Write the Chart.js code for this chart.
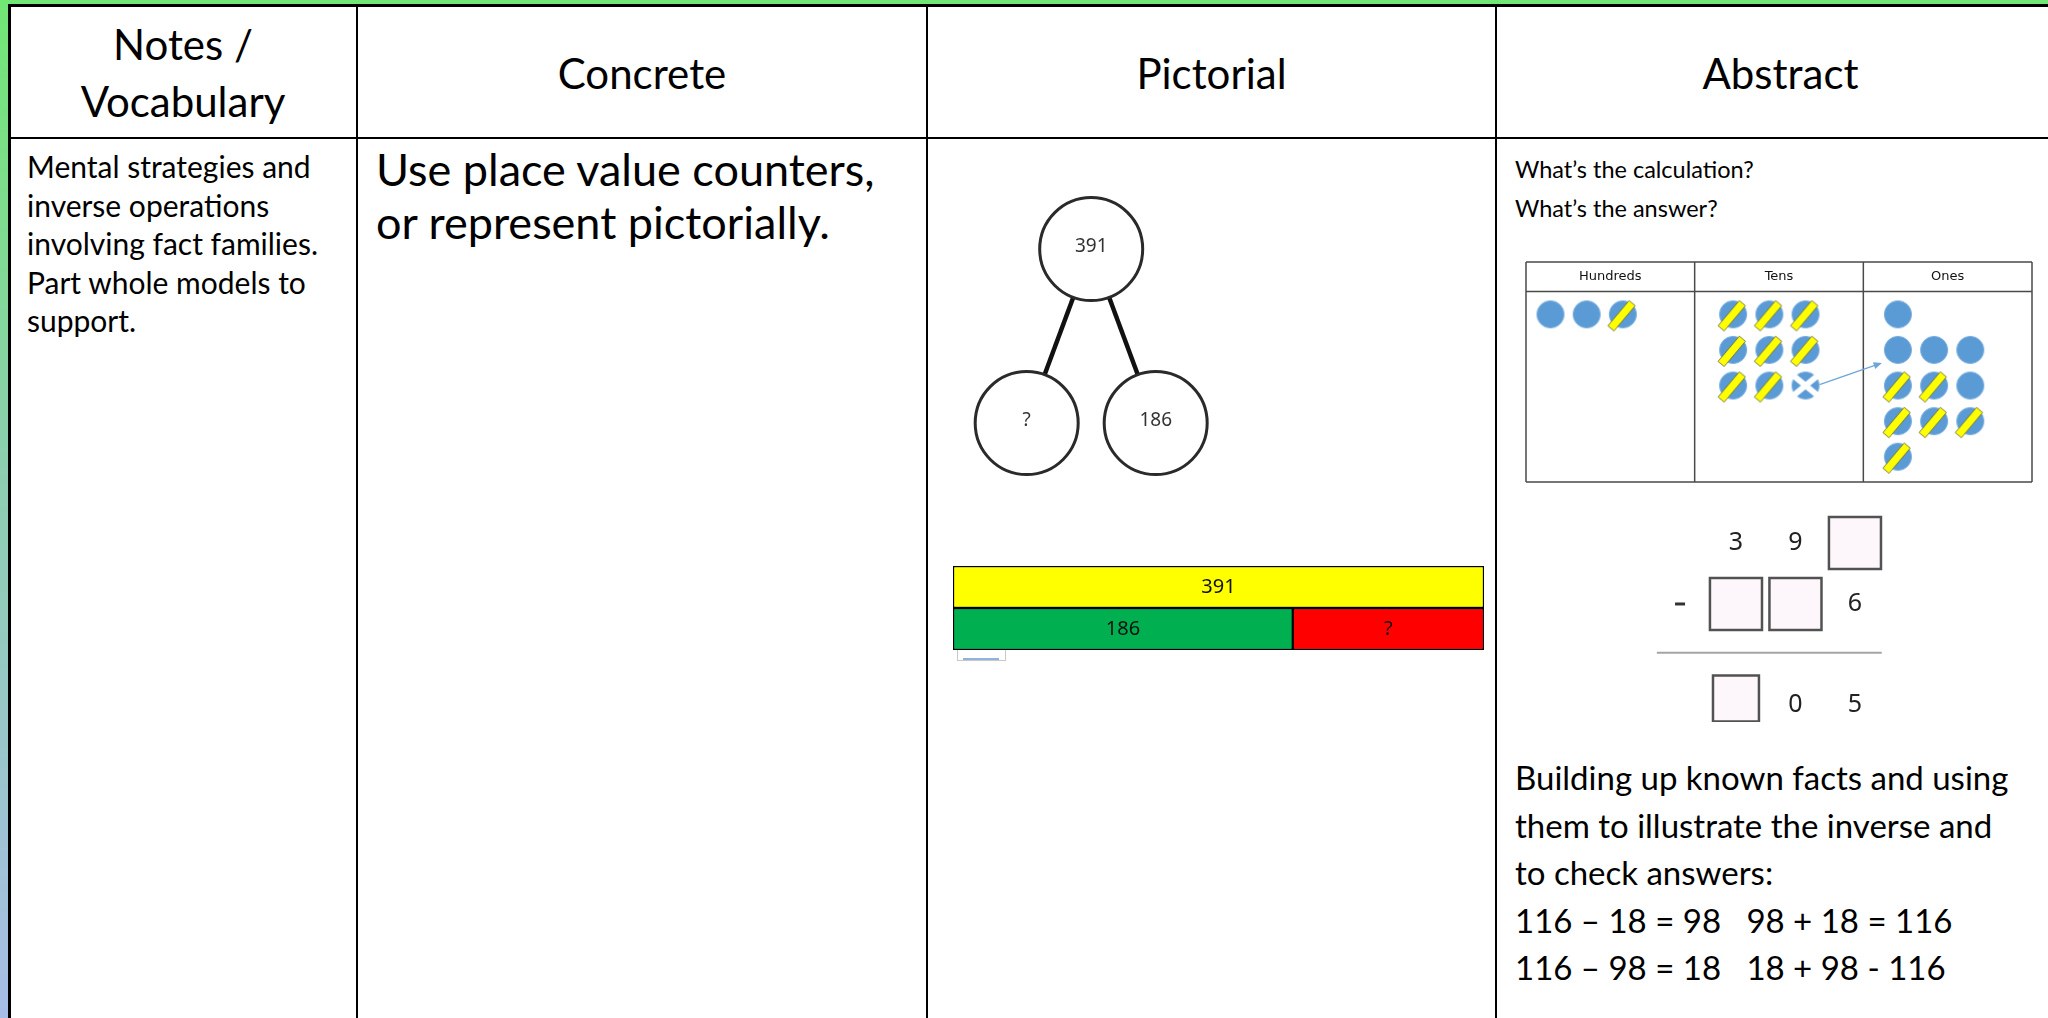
<!DOCTYPE html>
<html>
<head>
<meta charset="utf-8">
<title>Subtraction - CPA</title>
<script src="https://cdn.jsdelivr.net/npm/chart.js@4.4.1/dist/chart.umd.min.js"></script>
<style>
html, body { margin: 0; padding: 0; }
body {
    width: 2048px; height: 1018px; overflow: hidden; position: relative;
    background: linear-gradient(to bottom, #72e674 0%, #8ccfae 45%, #a8bde6 100%);
    font-family: Lato, "Open Sans", sans-serif; color: #000;
}
#sheet { position: absolute; left: 8px; top: 4px; width: 2100px; height: 1100px; background: #fff; }
.rule { position: absolute; background: #000; }
.txt { position: absolute; white-space: pre; }
.head { font-size: 42px; line-height: 57px; text-align: center; }
canvas { position: absolute; }
</style>
</head>
<body>
<div id="sheet"></div>

<div class="rule" style="left:8px; top:4px; width:2100px; height:3px;"></div>
<div class="rule" style="left:8px; top:4px; width:3px; height:1100px;"></div>
<div class="rule" style="left:8px; top:137px; width:2100px; height:2px;"></div>
<div class="rule" style="left:356px; top:4px; width:2px; height:1100px;"></div>
<div class="rule" style="left:926px; top:4px; width:2px; height:1100px;"></div>
<div class="rule" style="left:1495px; top:4px; width:2px; height:1100px;"></div>

<div class="txt head" style="left:9px; width:348px; top:16px;">Notes /
Vocabulary</div>
<div class="txt head" style="left:358px; width:568px; top:45px;">Concrete</div>
<div class="txt head" style="left:928px; width:567px; top:45px;">Pictorial</div>
<div class="txt head" style="left:1497px; width:567px; top:45px;">Abstract</div>

<div class="txt" style="left:27px; top:147px; font-size:30px; line-height:38.5px;">Mental strategies and
inverse operations
involving fact families.
Part whole models to
support.</div>

<div class="txt" style="left:376px; top:143px; font-size:45px; line-height:53px;">Use place value counters,
or represent pictorially.</div>

<div class="txt" style="left:1515px; top:150px; font-size:23.5px; line-height:39px;">What’s the calculation?
What’s the answer?</div>

<div class="txt" style="left:1515px; top:754px; font-size:33px; line-height:47.5px;">Building up known facts and using
them to illustrate the inverse and
to check answers:
116 – 18 = 98   98 + 18 = 116
116 – 98 = 18   18 + 98 - 116</div>

<canvas id="partWhole" width="260" height="310" style="left:960px; top:180px;"></canvas>
<canvas id="barModel" width="537" height="90" style="left:950px; top:563px;"></canvas>
<div style="position:absolute; left:957px; top:650px; width:47px; height:10px; border:1px solid #c8c8c8; border-top:none;"></div>
<div style="position:absolute; left:963px; top:658px; width:36px; height:2px; background:#8fb3dc;"></div>
<canvas id="placeValue" width="512" height="226" style="left:1523px; top:259px;"></canvas>
<canvas id="columnSub" width="240" height="210" style="left:1650px; top:512px;"></canvas>

<script>
// part whole model
const wholeValue = "391";
const partValues = ["?", "186"];

// bar model: lengths as drawn (whole bar = 100), labels shown on the bars
const barRows = ["whole", "parts"];
const wholeBarLength = [100];
const partBarLengths = [64, 36];
const wholeBarLabel = ["391"];
const partBarLabels = ["186", "?"];

// place value counters, one array per row
const placeNames = ["Hundreds", "Tens", "Ones"];
const hundredsCounters = [["plain", "plain", "crossed"]];
const tensCounters = [
    ["crossed", "crossed", "crossed"],
    ["crossed", "crossed", "crossed"],
    ["crossed", "crossed", "exchanged"]
];
const onesCounters = [
    ["plain"],
    ["plain", "plain", "plain"],
    ["crossed", "crossed", "plain"],
    ["crossed", "crossed", "crossed"],
    ["crossed"]
];

// column subtraction (null = empty box)
const minuendDigits = ["3", "9", null];
const subtrahendDigits = [null, null, "6"];
const differenceDigits = [null, "0", "5"];

const baseOptions = {
    responsive: false,
    animation: false,
    events: [],
    devicePixelRatio: 1,
    plugins: { legend: { display: false }, tooltip: { enabled: false } }
};

function makePartWhole() {
    const nodes = [{ x: 0, y: 0 }, { x: -1, y: 1 }, { x: 1, y: 1 }];
    const texts = [wholeValue, partValues[0], partValues[1]];

    new Chart(document.getElementById("partWhole"), {
        type: "scatter",
        data: {
            datasets: [
                {
                    data: nodes,
                    pointRadius: 51.5,
                    pointBackgroundColor: "#fff",
                    pointBorderColor: "#2a2a2a",
                    pointBorderWidth: 3,
                    clip: false
                },
                { type: "line", data: [nodes[0], nodes[1]], borderColor: "#111", borderWidth: 4.5, pointRadius: 0, clip: false },
                { type: "line", data: [nodes[0], nodes[2]], borderColor: "#111", borderWidth: 4.5, pointRadius: 0, clip: false }
            ]
        },
        options: {
            ...baseOptions,
            layout: { autoPadding: false, padding: 0 },
            scales: {
                x: { type: "linear", display: false, min: -2.034, max: 1.997 },
                y: { type: "linear", display: false, reverse: true, min: -0.397, max: 1.385 }
            }
        },
        plugins: [{
            id: "nodeText",
            afterDatasetsDraw(chart) {
                const ctx = chart.ctx;
                ctx.save();
                ctx.font = '19px "Noto Sans"';
                ctx.fillStyle = "#333";
                ctx.textAlign = "center";
                ctx.textBaseline = "middle";
                chart.getDatasetMeta(0).data.forEach((pt, i) => {
                    ctx.fillText(texts[i], pt.x, pt.y - 2);
                });
                ctx.restore();
            }
        }]
    });
}

function makeBarModel() {
    const labels = [[wholeBarLabel[0], null], [null, partBarLabels[0]], [null, partBarLabels[1]]];

    new Chart(document.getElementById("barModel"), {
        type: "bar",
        data: {
            labels: barRows,
            datasets: [
                { data: [wholeBarLength[0], null], backgroundColor: "#ffff00" },
                { data: [null, partBarLengths[0]], backgroundColor: "#00b050" },
                { data: [null, partBarLengths[1]], backgroundColor: "#ff0000" }
            ]
        },
        options: {
            ...baseOptions,
            indexAxis: "y",
            layout: { autoPadding: false, padding: 3 },
            datasets: {
                bar: { barPercentage: 1, categoryPercentage: 1, borderColor: "#000", borderWidth: 1.5, borderSkipped: false }
            },
            scales: {
                x: { stacked: true, display: false, min: 0, max: 100 },
                y: { stacked: true, display: false }
            }
        },
        plugins: [{
            id: "barText",
            afterDatasetsDraw(chart) {
                const ctx = chart.ctx;
                ctx.save();
                ctx.font = '20px "Noto Sans"';
                ctx.fillStyle = "#111";
                ctx.textAlign = "center";
                ctx.textBaseline = "middle";
                chart.data.datasets.forEach((ds, i) => {
                    chart.getDatasetMeta(i).data.forEach((bar, j) => {
                        if (labels[i][j] == null) return;
                        ctx.fillText(labels[i][j], (bar.x + bar.base) / 2, bar.y);
                    });
                });
                ctx.restore();
            }
        }]
    });
}

function counterImage(state) {
    const c = document.createElement("canvas");
    c.width = 38;
    c.height = 38;
    const g = c.getContext("2d");
    g.translate(19, 19);
    g.beginPath();
    g.arc(0, 0, 13.6, 0, Math.PI * 2);
    g.fillStyle = "#5b9bd5";
    g.fill();
    g.strokeStyle = "#7aaede";
    g.lineWidth = 1;
    g.stroke();
    if (state === "crossed") {
        g.save();
        g.translate(-1, 1);
        g.rotate(-0.87);
        g.fillStyle = "#ffff00";
        g.fillRect(-17, -4, 33, 8);
        g.strokeStyle = "#6d6d3a";
        g.lineWidth = 0.8;
        g.strokeRect(-17, -4, 33, 8);
        g.restore();
    }
    if (state === "exchanged") {
        g.strokeStyle = "#fff";
        g.lineWidth = 6;
        g.beginPath();
        g.moveTo(-11, -9);
        g.lineTo(11, 9);
        g.moveTo(11, -9);
        g.lineTo(-11, 9);
        g.stroke();
    }
    return c;
}

function makePlaceValue() {
    const images = {
        plain: counterImage("plain"),
        crossed: counterImage("crossed"),
        exchanged: counterImage("exchanged")
    };
    const slotStart = [0.145, 0.228, 0.205];
    const slotStep = 0.2146;
    const tableTop = -1.47, headerLine = -0.642, tableBottom = 4.71;

    const points = [];
    const styles = [];
    let exchangedIndex = -1;
    [hundredsCounters, tensCounters, onesCounters].forEach((rows, p) => {
        rows.forEach((row, r) => {
            row.forEach((state, c) => {
                if (state === "exchanged") exchangedIndex = points.length;
                points.push({ x: p + slotStart[p] + c * slotStep, y: r });
                styles.push(images[state]);
            });
        });
    });
    // the exchanged ten goes to the second row of the ones column
    const arrowTarget = { x: 2 + slotStart[2], y: 1 };

    new Chart(document.getElementById("placeValue"), {
        type: "scatter",
        data: { datasets: [{ data: points, pointStyle: styles, pointRadius: 14, clip: false }] },
        options: {
            ...baseOptions,
            layout: { autoPadding: false, padding: 3 },
            scales: {
                x: { type: "linear", display: false, min: 0, max: 3 },
                y: { type: "linear", display: false, reverse: true, min: tableTop, max: tableBottom }
            }
        },
        plugins: [{
            id: "placeTable",
            beforeDatasetsDraw(chart) {
                const ctx = chart.ctx;
                const xs = chart.scales.x, ys = chart.scales.y;
                ctx.save();
                ctx.strokeStyle = "#4a4a4a";
                ctx.lineWidth = 1.5;
                ctx.beginPath();
                for (let i = 0; i <= 3; i++) {
                    ctx.moveTo(xs.getPixelForValue(i), ys.getPixelForValue(tableTop));
                    ctx.lineTo(xs.getPixelForValue(i), ys.getPixelForValue(tableBottom));
                }
                [tableTop, headerLine, tableBottom].forEach(v => {
                    ctx.moveTo(xs.getPixelForValue(0), ys.getPixelForValue(v));
                    ctx.lineTo(xs.getPixelForValue(3), ys.getPixelForValue(v));
                });
                ctx.stroke();
                ctx.font = '13px "DejaVu Sans"';
                ctx.fillStyle = "#111";
                ctx.textAlign = "center";
                ctx.textBaseline = "middle";
                const hy = ys.getPixelForValue((tableTop + headerLine) / 2);
                placeNames.forEach((name, i) => ctx.fillText(name, xs.getPixelForValue(i + 0.5), hy));
                ctx.restore();
            },
            afterDatasetsDraw(chart) {
                const ctx = chart.ctx;
                const from = chart.getDatasetMeta(0).data[exchangedIndex];
                const x1 = from.x + 14, y1 = from.y - 1;
                const x2 = chart.scales.x.getPixelForValue(arrowTarget.x) - 16;
                const y2 = chart.scales.y.getPixelForValue(arrowTarget.y) + 13;
                const a = Math.atan2(y2 - y1, x2 - x1);
                ctx.save();
                ctx.strokeStyle = "#6fa6da";
                ctx.fillStyle = "#6fa6da";
                ctx.lineWidth = 1.3;
                ctx.beginPath();
                ctx.moveTo(x1, y1);
                ctx.lineTo(x2 - 6 * Math.cos(a), y2 - 6 * Math.sin(a));
                ctx.stroke();
                ctx.beginPath();
                ctx.moveTo(x2, y2);
                ctx.lineTo(x2 - 9 * Math.cos(a - 0.4), y2 - 9 * Math.sin(a - 0.4));
                ctx.lineTo(x2 - 9 * Math.cos(a + 0.4), y2 - 9 * Math.sin(a + 0.4));
                ctx.closePath();
                ctx.fill();
                ctx.restore();
            }
        }]
    });
}

function makeColumnSub() {
    const rowLevels = [0, 1, 2.55];
    const rows = [minuendDigits, subtrahendDigits, differenceDigits];
    const boxes = [];
    const boxSizes = [];
    const digits = [];
    rows.forEach((row, r) => {
        row.forEach((d, c) => {
            if (d === null) {
                boxes.push({ x: c, y: rowLevels[r] });
                boxSizes.push(r === 2 ? 32.5 : 36.8);
            } else {
                digits.push({ text: d, x: c, y: rowLevels[r] + (r === 2 ? 0.1 : 0) });
            }
        });
    });

    new Chart(document.getElementById("columnSub"), {
        type: "scatter",
        data: {
            datasets: [{
                data: boxes,
                pointStyle: "rect",
                pointRadius: boxSizes,
                pointBackgroundColor: "#fdf7fb",
                pointBorderColor: "#525252",
                pointBorderWidth: 2.5,
                clip: false
            }]
        },
        options: {
            ...baseOptions,
            layout: { autoPadding: false, padding: 0 },
            scales: {
                x: { type: "linear", display: false, min: -1.445, max: 2.589 },
                y: { type: "linear", display: false, reverse: true, min: -0.508, max: 2.935 }
            }
        },
        plugins: [{
            id: "subText",
            afterDatasetsDraw(chart) {
                const ctx = chart.ctx;
                const xs = chart.scales.x, ys = chart.scales.y;
                ctx.save();
                // answer line
                ctx.strokeStyle = "#a4a4a4";
                ctx.lineWidth = 2;
                ctx.beginPath();
                ctx.moveTo(xs.getPixelForValue(-1.33), ys.getPixelForValue(1.8));
                ctx.lineTo(xs.getPixelForValue(2.45), ys.getPixelForValue(1.8));
                ctx.stroke();
                // minus sign
                ctx.fillStyle = "#333";
                ctx.fillRect(xs.getPixelForValue(-0.94) - 5, ys.getPixelForValue(1) - 1.5, 10, 3);
                ctx.font = '25px "Noto Sans"';
                ctx.fillStyle = "#222";
                ctx.textAlign = "center";
                ctx.textBaseline = "middle";
                digits.forEach(d => ctx.fillText(d.text, xs.getPixelForValue(d.x), ys.getPixelForValue(d.y)));
                ctx.restore();
            }
        }]
    });
}

makePartWhole();
makeBarModel();
makePlaceValue();
makeColumnSub();
</script>
</body>
</html>
